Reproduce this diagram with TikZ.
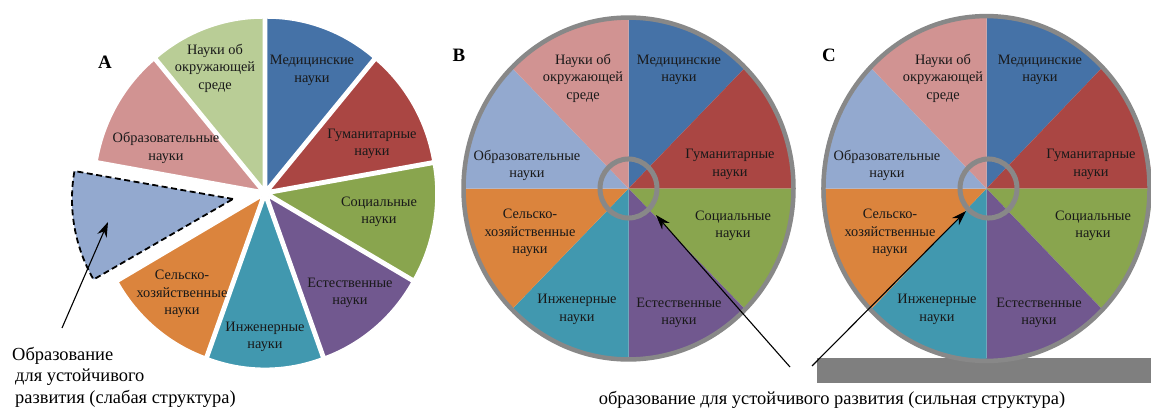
\documentclass[tikz,border=0pt]{standalone}
\usepackage{fontspec}
\setmainfont{Liberation Serif}
\usetikzlibrary{arrows.meta}
\definecolor{cBlue}{HTML}{4572A7}
\definecolor{cRed}{HTML}{AA4643}
\definecolor{cGreen}{HTML}{89A54E}
\definecolor{cPurple}{HTML}{71588F}
\definecolor{cTeal}{HTML}{4198AF}
\definecolor{cOrange}{HTML}{DB843D}
\definecolor{cLBlue}{HTML}{93A9CF}
\definecolor{cPink}{HTML}{D19392}
\definecolor{cLGreen}{HTML}{B9CD96}
\definecolor{ringgray}{RGB}{136,136,136}
\definecolor{bargray}{RGB}{127,127,127}
\tikzset{
  lbl/.style={font=\fontsize{14.4}{17.5}\selectfont, align=center, inner sep=0pt, text=black!90},
  capt/.style={font=\fontsize{18.5}{21.5}\selectfont, inner sep=0pt},
  letter/.style={font=\fontsize{19}{22}\selectfont\bfseries, inner sep=0pt},
  arr/.style={-{Stealth[length=15bp,width=10bp]}, line width=1.1bp, black},
  sliceA/.style={draw=white, line width=1.4bp},
}
\newcommand{\sliceA}[3]{%
  \pgfmathsetmacro{\bis}{(#1+#2)/2}%
  \fill[#3, sliceA] (\bis:5) -- ++(#1:166) arc[start angle=#1, end angle=#2, radius=166] -- cycle;}
\newcommand{\sliceB}[3]{%
  \fill[#3] (0,0) -- (#1:165) arc[start angle=#1, end angle=#2, radius=165] -- cycle;}
\begin{document}
\begin{tikzpicture}[x=1bp, y=1bp]
\useasboundingbox (0,0) rectangle (1151,410);
\clip (0,0) rectangle (1151,410);
\fill[white] (0,0) rectangle (1151,410);

% ---------------- Pie A ----------------
\begin{scope}[shift={(265,217)}, yscale=1.025]
  \sliceA{50}{90}{cBlue}
  \sliceA{10}{50}{cRed}
  \sliceA{-30}{10}{cGreen}
  \sliceA{-70}{-30}{cPurple}
  \sliceA{-110}{-70}{cTeal}
  \sliceA{-150}{-110}{cOrange}
  \sliceA{130}{170}{cPink}
  \sliceA{90}{130}{cLGreen}
\end{scope}
\filldraw[fill=cLBlue, draw=black, line width=1.8bp, dash pattern=on 6bp off 3.5bp]
  (233,211) -- ++(170:161) arc[start angle=170, end angle=210, radius=161] -- cycle;

\node[letter] (lA) at (105,348) {A};
\node[lbl] (a1) at (215,342) {Науки об\\окружающей\\среде};
\node[lbl] (a2) at (312,339.5) {Медицинские\\науки};
\node[lbl] (a3) at (372,266) {Гуманитарные\\науки};
\node[lbl] (a4) at (379,198) {Социальные\\науки};
\node[lbl] (a5) at (350,117) {Естественные\\науки};
\node[lbl] (a6) at (265,73) {Инженерные\\науки};
\node[lbl] (a7) at (182,116) {Сельско-\\хозяйственные\\науки};
\node[lbl] (a8) at (166,262) {Образовательные\\науки};

\node[capt, anchor=west, align=left] (capA) at (12,33)
  {Образование\\\hspace*{3bp}для устойчивого\\\hspace*{3bp}развития (слабая структура)};
\coordinate (aS) at (62,82);
\coordinate (aT) at (108,188);
\draw[arr] (aS) -- (aT);

% ---------------- Wheel B ----------------
\begin{scope}[shift={(628.5,221.5)}, yscale=1.036]
  \sliceB{45}{90}{cBlue}
  \sliceB{0}{45}{cRed}
  \sliceB{-45}{0}{cGreen}
  \sliceB{-90}{-45}{cPurple}
  \sliceB{-135}{-90}{cTeal}
  \sliceB{180}{225}{cOrange}
  \sliceB{135}{180}{cLBlue}
  \sliceB{90}{135}{cPink}
  \draw[ringgray, line width=4.5bp] (0,0) circle[radius=165];
  \draw[ringgray, line width=5bp] (0,0) circle[radius=28.5];
\end{scope}
\node[letter] (lB) at (459,355) {B};
\node[lbl] (b1) at (583,332) {Науки об\\окружающей\\среде};
\node[lbl] (b2) at (679,340) {Медицинские\\науки};
\node[lbl] (b3) at (730,245.5) {Гуманитарные\\науки};
\node[lbl] (b4) at (733,184) {Социальные\\науки};
\node[lbl] (b5) at (679,97) {Естественные\\науки};
\node[lbl] (b6) at (577,100.5) {Инженерные\\науки};
\node[lbl] (b7) at (530,177) {Сельско-\\хозяйственные\\науки};
\node[lbl] (b8) at (527,244.5) {Образовательные\\науки};

% ---------------- Wheel C ----------------
\fill[bargray] (817,27) rectangle (1151,52);
\begin{scope}[shift={(986.5,221.5)}, yscale=1.045]
  \sliceB{45}{90}{cBlue}
  \sliceB{0}{45}{cRed}
  \sliceB{-45}{0}{cGreen}
  \sliceB{-90}{-45}{cPurple}
  \sliceB{-135}{-90}{cTeal}
  \sliceB{180}{225}{cOrange}
  \sliceB{135}{180}{cLBlue}
  \sliceB{90}{135}{cPink}
\end{scope}
\begin{scope}[shift={(986.5,221.5)}, xscale=0.988, yscale=1.045]
  \draw[ringgray, line width=4.5bp] (0,0) circle[radius=165];
\end{scope}
\begin{scope}[shift={(988.5,221.5)}, yscale=1.036]
  \draw[ringgray, line width=5bp] (0,0) circle[radius=28.5];
\end{scope}
\node[letter] (lC) at (829,355) {C};
\node[lbl] (c1) at (943,332) {Науки об\\окружающей\\среде};
\node[lbl] (c2) at (1040,340) {Медицинские\\науки};
\node[lbl] (c3) at (1091,245.5) {Гуманитарные\\науки};
\node[lbl] (c4) at (1093,184) {Социальные\\науки};
\node[lbl] (c5) at (1039,97) {Естественные\\науки};
\node[lbl] (c6) at (937,100.5) {Инженерные\\науки};
\node[lbl] (c7) at (890,177) {Сельско-\\хозяйственные\\науки};
\node[lbl] (c8) at (887,244.5) {Образовательные\\науки};

% ---------------- caption and arrows ----------------
\node[capt] (capBC) at (832,10) {образование для устойчивого развития (сильная структура)};
\coordinate (bS) at (790,43);
\coordinate (bT) at (656,195);
\draw[arr] (bS) -- (bT);
\coordinate (cS) at (812,44);
\coordinate (cT) at (966,199);
\draw[arr] (cS) -- (cT);
\end{tikzpicture}
\end{document}
